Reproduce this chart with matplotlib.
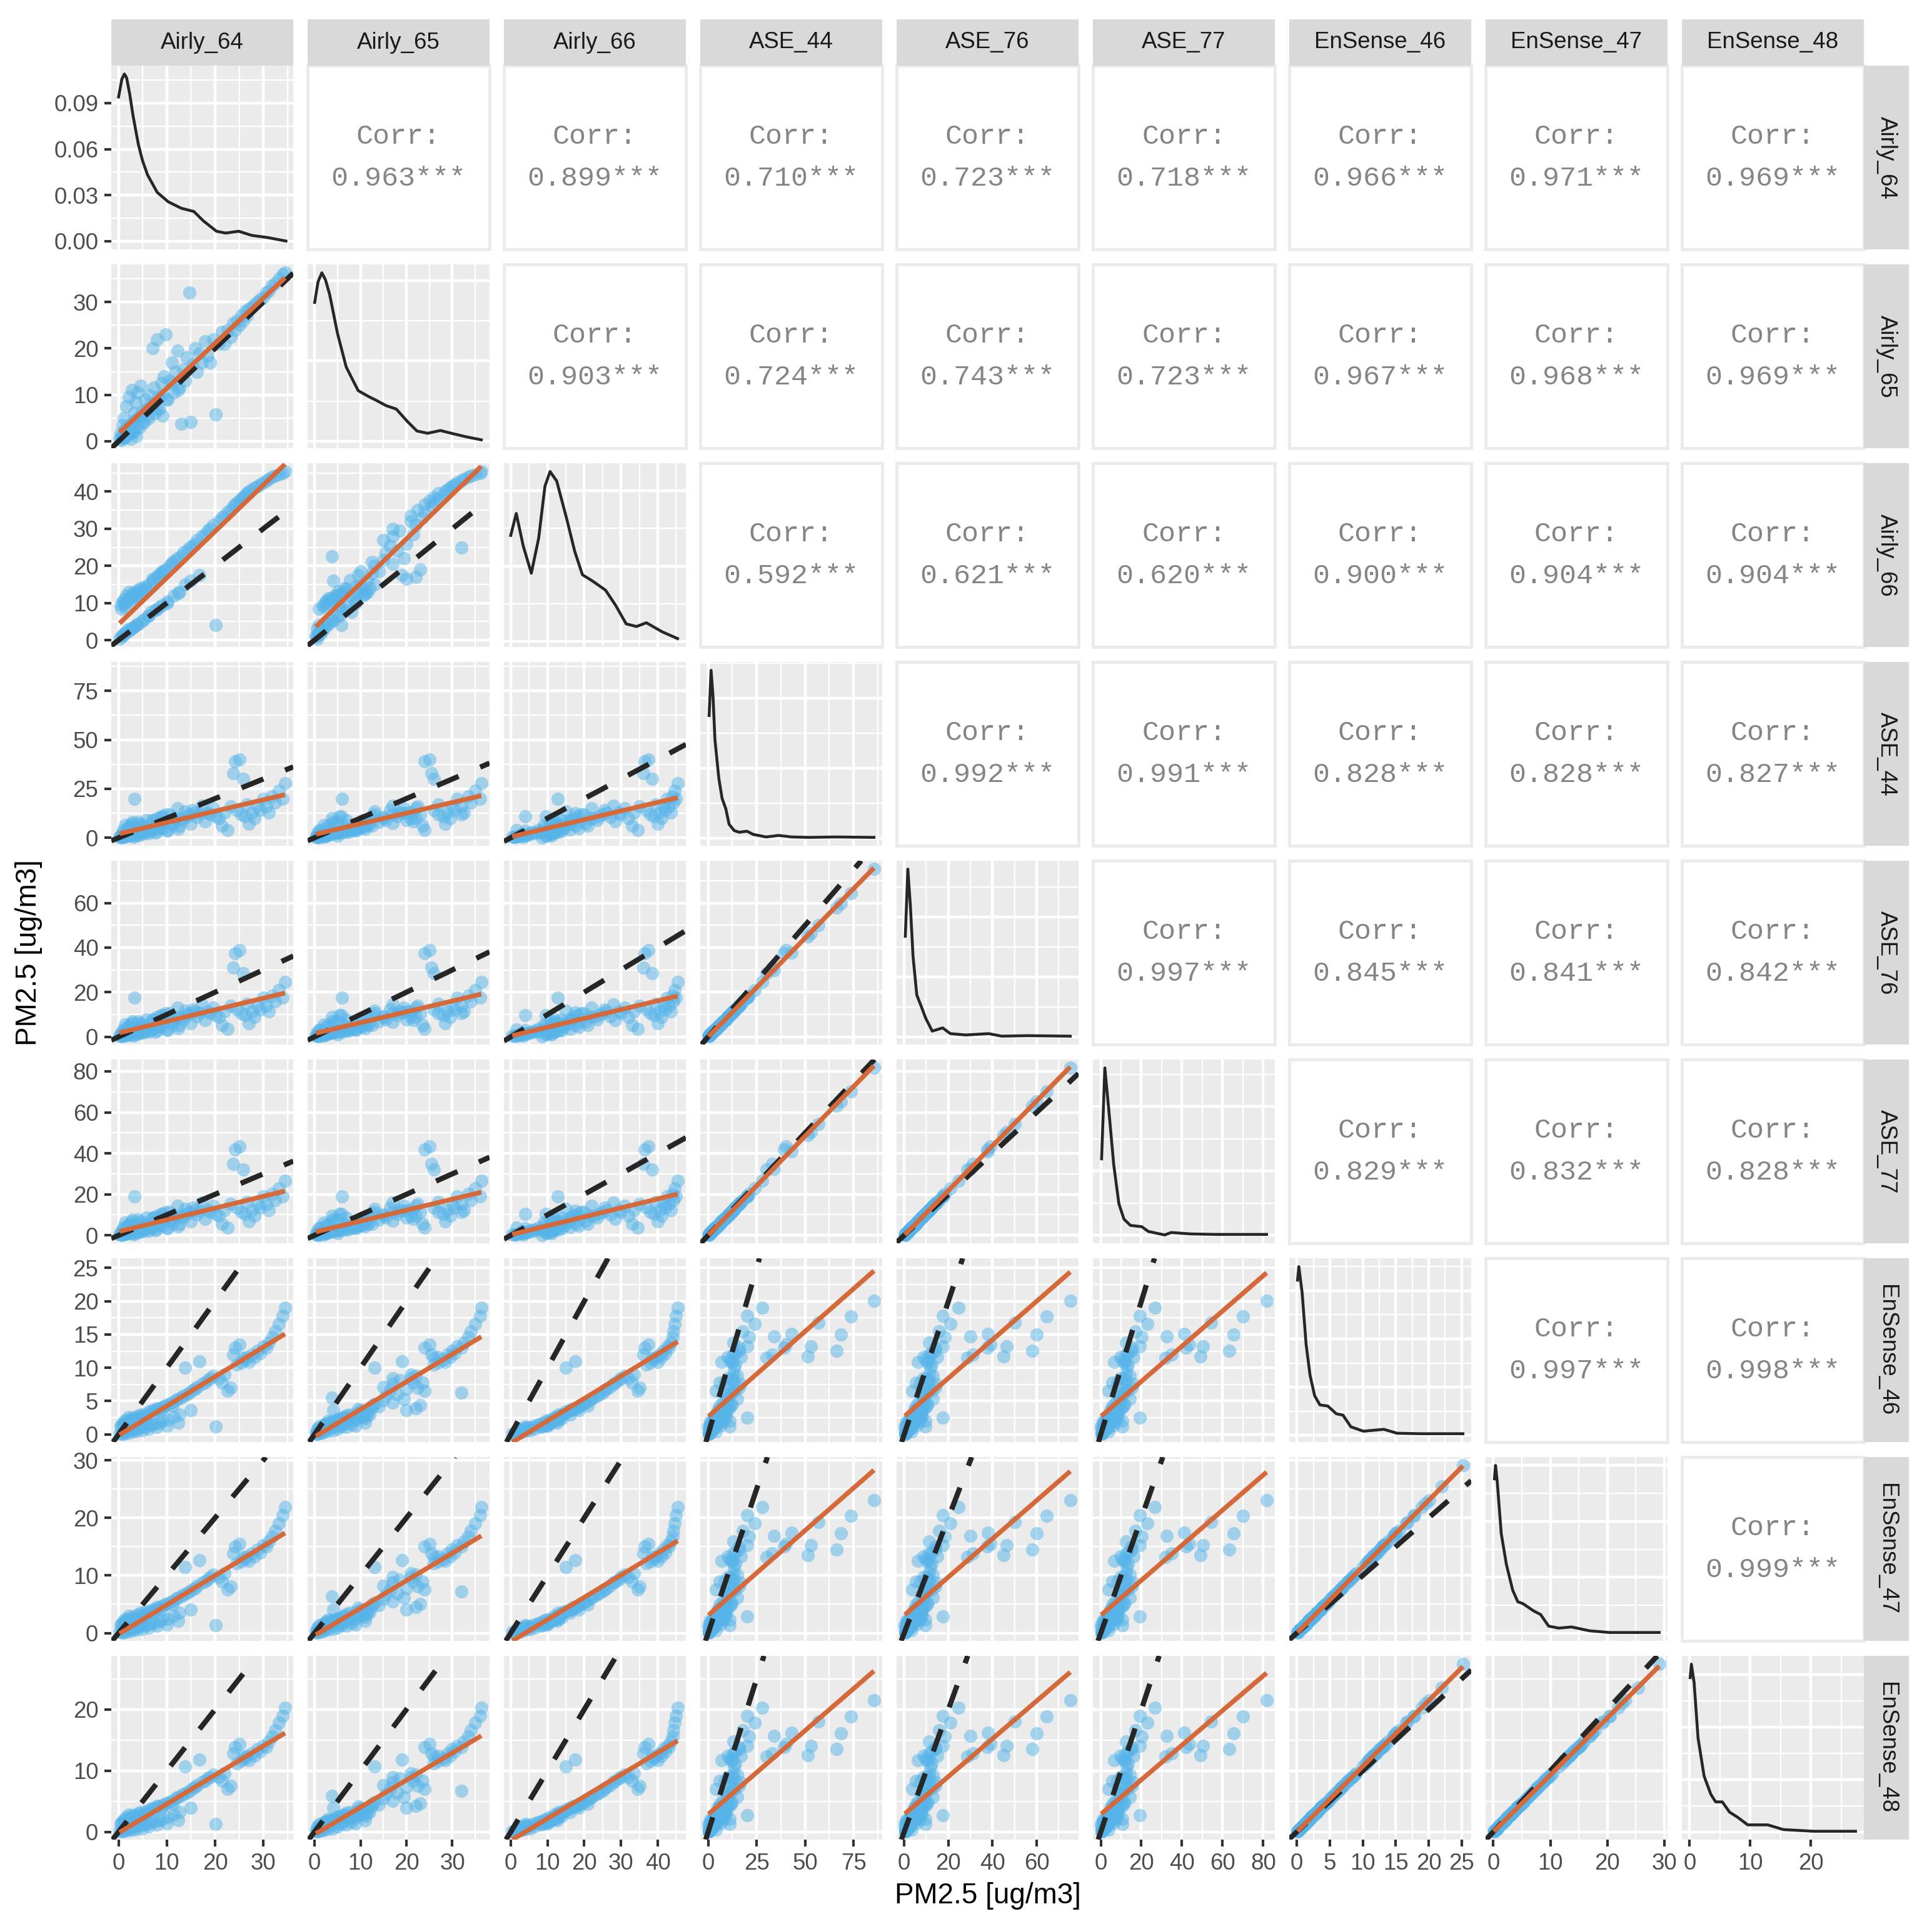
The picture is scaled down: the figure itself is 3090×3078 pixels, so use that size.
import numpy as np
import matplotlib.pyplot as plt
from matplotlib.ticker import MultipleLocator, MaxNLocator, AutoMinorLocator, FormatStrFormatter

plt.rcParams['font.family'] = ['Liberation Sans', 'DejaVu Sans']

nan = np.nan
names = ['Airly_64', 'Airly_65', 'Airly_66', 'ASE_44', 'ASE_76', 'ASE_77',
         'EnSense_46', 'EnSense_47', 'EnSense_48']

# hourly PM2.5 per sensor (NaN = sensor had no reading)
airly_64 = [0.2, 0.4, 0.6, 0.8, 1.0, 1.1, 1.3, 1.5, 1.6, 1.8, 2.0, 2.1, 2.3, 2.5, 2.7, 2.9, 3.1, 3.3, 3.5, 3.7,
            3.9, 4.1, 4.3, 4.6, 4.9, 5.2, 5.5, 5.8, 6.1, 6.4,
            6.8, 7.0, 7.3, 7.6, 7.9, 8.2, 8.5, 8.8, 9.1, 9.4, 9.8, 10.2, 10.6, 11.0, 11.4, 11.8, 12.2, 12.6,
            13.0, 13.4, 13.8, 14.2, 14.7, 14.9, 15.3, 15.8, 16.3, 16.8, 17.3, 17.9, 18.4, 19.0, 19.6, 20.2,
            20.8, 21.4, 22.0, 22.6, 23.2, 23.8, 24.2, 24.6, 25.0, 25.4, 25.8, 26.2, 26.6, 27.0, 27.6, 28.2,
            28.8, 29.4, 30.0, 30.6, 31.2, 31.8, 32.5, 33.2, 34.0, 34.5,
            0.5, 0.9, 1.2, 1.4, 1.7, 2.2, 2.6, 3.0, 3.4, 3.8, 4.4, 5.0, 5.6, 6.2, 7.2, 8.0, 9.0, 10.0, 11.2, 12.4
            ] + [nan] * 12
airly_65 = [0.5, 1.8, 0.3, 3.5, 1.2, 5.0, 2.0, 0.8, 7.5, 2.5, 1.5, 9.5, 3.0, 0.5, 11.0, 4.0, 2.0, 6.0, 8.5, 1.0,
            10.5, 5.0, 3.0, 12.0, 6.5, 4.0, 9.0, 7.0, 5.5, 10.0,
            8.0, 20.0, 11.5, 6.0, 22.0, 9.5, 7.0, 12.5, 5.5, 14.0, 23.0, 9.0, 13.0, 17.0, 10.5, 15.0, 19.5, 11.5,
            3.8, 15.5, 13.0, 18.0, 32.0, 4.1, 16.5, 20.0, 15.0, 19.0, 17.0, 21.5, 18.5, 17.0, 22.0, 5.8,
            21.0, 23.5, 21.0, 24.0, 22.5, 25.5, 24.0, 26.0, 25.0, 27.0, 26.0, 28.0, 27.0, 28.5, 29.0, 29.5,
            30.0, 30.5, 31.0, 32.0, 32.5, 33.5, 34.0, 35.0, 36.0, 36.3,
            1.0, 0.6, 2.4, 1.1, 3.0, 1.8, 3.8, 2.2, 4.6, 3.0, 5.2, 4.1, 6.5, 5.0, 7.8, 7.0, 10.0, 9.0, 12.5, 11.0
            ] + [nan] * 12
airly_66 = [0.4, 9.5, 1.0, 10.2, 1.5, 11.0, 9.0, 2.0, 12.0, 10.5, 2.8, 13.0, 11.2, 3.0, 12.5, 10.8, 3.5, 12.8, 11.5, 4.0,
            13.5, 12.0, 4.5, 14.0, 13.0, 5.5, 14.5, 13.8, 6.5, 15.0,
            7.5, 16.5, 16.0, 8.0, 17.0, 17.5, 9.0, 18.0, 9.5, 18.5, 19.0, 10.5, 20.0, 20.5, 12.0, 21.5, 22.0, 13.0,
            22.5, 23.5, 15.0, 24.0, 25.0, 16.0, 25.5, 26.0, 27.0, 17.5, 28.0, 28.5, 29.5, 30.0, 31.0, 4.0,
            32.0, 33.0, 33.5, 34.5, 35.0, 36.0, 36.5, 37.0, 37.5, 38.0, 38.5, 39.0, 39.5, 40.0, 40.5, 41.0,
            41.5, 42.0, 42.5, 43.0, 43.5, 44.0, 44.3, 44.6, 45.0, 45.4,
            8.5, 1.2, 9.8, 1.8, 10.8, 2.5, 11.5, 3.3, 12.2, 4.2, 13.2, 5.3, 14.0, 6.5, 16.2, 8.2, 18.5, 10.0, 21.0, 12.6
            ] + [nan] * 12
ase_44 = [0.3, 1.2, 0.5, 2.5, 4.0, 1.0, 6.5, 0.8, 3.0, 5.0, 1.5, 5.0, 6.0, 2.0, 7.0, 8.0, 0.5, 20.0, 4.5, 3.5,
          5.5, 8.0, 1.5, 7.0, 6.0, 2.5, 5.0, 9.0, 3.0, 6.5,
          4.0, 9.0, 9.0, 2.5, 10.0, 6.0, 5.0, 11.0, 11.0, 8.0, 12.0, 3.5, 12.0, 7.5, 9.0, 10.0, 15.0, 6.0,
          10.0, 9.0, 13.5, 11.0, 12.0, 7.0, 14.0, 13.0, 10.5, 12.5, 16.5, 8.5, 13.0, 12.0, 15.0, 11.0,
          10.0, 6.0, 13.0, 4.0, 16.0, 33.0, 39.0, 14.0, 40.0, 12.0, 30.0, 11.0, 17.0, 7.0, 13.0, 10.0,
          16.0, 14.0, 20.0, 16.0, 13.0, 21.0, 18.0, 24.0, 20.0, 28.0,
          0.2, 0.4, 1.0, 0.6, 1.8, 0.9, 2.2, 1.2, 2.8, 1.5, 3.0, 2.0, 3.5, 2.4, 4.2, 3.0, 5.0, 3.8, 6.0, 4.5,
          34.0, 43.0, 51.4, 52.9, 57.0, 66.3, 68.4, 73.5, 85.5, nan, nan, nan]
ase_76 = [0.5, 1.3, 0.4, 2.4, 3.4, 1.1, 5.6, 0.9, 2.7, 4.4, 1.4, 4.5, 5.3, 1.9, 6.2, 7.0, 0.6, 17.6, 3.9, 3.1,
          4.8, 7.0, 1.5, 6.1, 5.3, 2.2, 4.4, 7.9, 2.6, 5.7,
          3.5, 7.9, 7.9, 2.2, 8.8, 5.2, 4.4, 9.6, 9.6, 7.0, 10.5, 3.1, 10.5, 6.6, 7.9, 8.8, 13.1, 5.3,
          8.8, 7.9, 11.8, 9.6, 10.5, 6.1, 12.3, 11.4, 9.2, 10.9, 14.4, 7.4, 11.4, 10.5, 13.1, 9.6,
          8.8, 5.3, 11.4, 3.5, 14.0, 31.0, 37.5, 12.3, 39.0, 10.5, 28.5, 9.6, 14.9, 6.1, 11.4, 8.8,
          14.0, 12.3, 17.5, 14.0, 11.4, 18.4, 15.8, 21.0, 17.5, 24.5,
          0.3, 0.4, 0.9, 0.5, 1.6, 0.8, 1.9, 1.1, 2.4, 1.3, 2.6, 1.8, 3.1, 2.1, 3.7, 2.6, 4.4, 3.3, 5.2, 3.9,
          30.0, 37.8, 45.0, 46.3, 50.0, 58.0, 60.0, 64.5, 75.2, nan, nan, nan]
ase_77 = [0.4, 1.2, 0.5, 2.4, 3.8, 1.0, 6.2, 0.8, 2.9, 4.8, 1.4, 4.8, 5.7, 1.9, 6.7, 7.6, 0.5, 19.1, 4.3, 3.4,
          5.3, 7.6, 1.5, 6.7, 5.7, 2.4, 4.8, 8.6, 2.9, 6.2,
          3.8, 8.6, 8.6, 2.4, 9.6, 5.7, 4.8, 10.5, 10.5, 7.6, 11.5, 3.3, 11.5, 7.2, 8.6, 9.6, 14.3, 5.7,
          9.6, 8.6, 12.9, 10.5, 11.5, 6.7, 13.4, 12.4, 10.0, 11.9, 15.8, 8.1, 12.4, 11.5, 14.3, 10.5,
          9.6, 5.7, 12.4, 3.8, 15.3, 35.0, 42.0, 13.4, 43.5, 11.5, 32.0, 10.5, 16.2, 6.7, 12.4, 9.6,
          15.3, 13.4, 19.1, 15.3, 12.4, 20.1, 17.2, 22.9, 19.1, 26.7,
          0.2, 0.4, 1.0, 0.6, 1.7, 0.9, 2.1, 1.1, 2.7, 1.4, 2.9, 1.9, 3.3, 2.3, 4.0, 2.9, 4.8, 3.6, 5.7, 4.3,
          32.5, 41.0, 49.0, 50.5, 54.5, 63.3, 65.3, 70.2, 81.7, nan, nan, nan]
ensense_46 = [0.1, 1.3, 0.2, 1.6, 0.4, 1.9, 1.4, 0.5, 2.2, 1.7, 0.6, 2.6, 2.0, 0.7, 2.4, 1.9, 0.8, 2.5, 2.1, 0.9,
              2.8, 2.3, 1.0, 3.0, 2.6, 1.1, 3.1, 2.9, 1.3, 3.4,
              1.5, 3.6, 3.5, 1.6, 3.9, 3.8, 1.8, 4.0, 2.0, 4.2, 4.4, 2.2, 4.6, 4.8, 2.6, 5.1, 5.3, 3.0,
              5.5, 5.8, 10.0, 6.0, 6.3, 3.6, 6.6, 6.8, 7.1, 11.0, 7.6, 7.8, 8.1, 8.4, 8.8, 1.2,
              8.4, 7.8, 9.0, 6.5, 7.0, 12.0, 13.0, 10.5, 13.5, 10.8, 11.5, 11.2, 11.6, 10.9, 12.0, 11.6,
              12.6, 12.2, 13.2, 13.0, 13.8, 14.6, 15.5, 16.6, 17.8, 19.0,
              1.2, 0.1, 1.5, 0.2, 1.7, 0.3, 1.9, 0.4, 2.0, 0.5, 2.2, 0.6, 2.4, 0.8, 3.0, 1.1, 3.6, 1.3, 4.3, 1.8,
              14.7, 15.1, 11.7, 13.2, 16.8, 12.6, 15.0, 17.7, 20.1, 25.2, 22.0, 19.5]
ensense_47 = [0.2, 1.5, 0.2, 1.8, 0.5, 2.2, 1.6, 0.6, 2.5, 2.0, 0.7, 3.0, 2.3, 0.8, 2.8, 2.2, 0.9, 2.9, 2.4, 1.0,
              3.2, 2.6, 1.2, 3.5, 3.0, 1.3, 3.6, 3.3, 1.5, 3.9,
              1.7, 4.1, 4.0, 1.8, 4.5, 4.4, 2.1, 4.6, 2.3, 4.8, 5.1, 2.5, 5.3, 5.5, 3.0, 5.9, 6.1, 3.5,
              6.3, 6.7, 11.5, 6.9, 7.2, 4.1, 7.6, 7.8, 8.2, 12.7, 8.7, 9.0, 9.3, 9.7, 10.1, 1.4,
              9.7, 9.0, 10.4, 7.5, 8.1, 13.8, 15.0, 12.1, 15.5, 12.4, 13.2, 12.9, 13.3, 12.5, 13.8, 13.3,
              14.5, 14.0, 15.2, 15.0, 15.9, 16.8, 17.8, 19.1, 20.5, 21.9,
              1.4, 0.1, 1.7, 0.2, 2.0, 0.3, 2.2, 0.5, 2.3, 0.6, 2.5, 0.7, 2.8, 0.9, 3.5, 1.3, 4.1, 1.5, 4.9, 2.1,
              16.9, 17.4, 13.5, 15.2, 19.3, 14.5, 17.3, 20.4, 23.1, 29.1, 25.4, 22.5]
ensense_48 = [0.1, 1.4, 0.2, 1.7, 0.4, 2.0, 1.5, 0.5, 2.4, 1.8, 0.6, 2.8, 2.1, 0.8, 2.6, 2.0, 0.9, 2.7, 2.2, 1.0,
              3.0, 2.5, 1.1, 3.2, 2.8, 1.2, 3.3, 3.1, 1.4, 3.6,
              1.6, 3.9, 3.7, 1.7, 4.2, 4.1, 1.9, 4.3, 2.1, 4.5, 4.7, 2.4, 4.9, 5.1, 2.8, 5.5, 5.7, 3.2,
              5.9, 6.2, 10.7, 6.4, 6.7, 3.9, 7.1, 7.3, 7.6, 11.8, 8.1, 8.3, 8.7, 9.0, 9.4, 1.3,
              9.0, 8.3, 9.6, 7.0, 7.5, 12.8, 13.9, 11.2, 14.4, 11.6, 12.3, 12.0, 12.4, 11.7, 12.8, 12.4,
              13.5, 13.1, 14.1, 13.9, 14.8, 15.6, 16.6, 17.8, 19.0, 20.3,
              1.3, 0.1, 1.6, 0.2, 1.8, 0.3, 2.0, 0.4, 2.1, 0.5, 2.4, 0.6, 2.6, 0.9, 3.2, 1.2, 3.9, 1.4, 4.6, 1.9,
              15.7, 16.2, 12.5, 14.1, 18.0, 13.5, 16.1, 18.9, 21.5, 27.4, 23.6, 21.0]

# upper triangle correlations, row by row
corr_vals = [0.963, 0.899, 0.710, 0.723, 0.718, 0.966, 0.971, 0.969,
             0.903, 0.724, 0.743, 0.723, 0.967, 0.968, 0.969,
             0.592, 0.621, 0.620, 0.900, 0.904, 0.904,
             0.992, 0.991, 0.828, 0.828, 0.827,
             0.997, 0.845, 0.841, 0.842,
             0.829, 0.832, 0.828,
             0.997, 0.998,
             0.999]

# density curves on the diagonal
kde_airly_64_x = [0, 0.67, 1.2, 1.66, 2.3, 3.0, 4.1, 4.95, 6.0, 8.0, 10.3, 13.0, 15.6, 17.6, 20.3, 22.2, 24.9, 27.6, 30.9, 34.7]
kde_airly_64_y = [0.094, 0.1056, 0.109, 0.1066, 0.096, 0.0817, 0.063, 0.0526, 0.0432, 0.0318, 0.0256, 0.0214,
                  0.0193, 0.0131, 0.0064, 0.0052, 0.0064, 0.0037, 0.0023, 0.0]
kde_airly_65_x = [0.04, 0.77, 1.6, 2.4, 3.3, 5.0, 6.9, 9.5, 11.7, 13.4, 15.6, 17.8, 20.1, 22.3, 24.6, 27.4, 30.2, 33.0, 36.3]
kde_airly_65_y = [0.0865, 0.0994, 0.105, 0.1005, 0.0914, 0.0672, 0.0462, 0.0315, 0.0279, 0.0255, 0.0221, 0.02,
                  0.0126, 0.0063, 0.0049, 0.0066, 0.0046, 0.0027, 0.0008]
kde_airly_66_x = [0, 1.5, 3.4, 5.6, 7.6, 9.3, 10.7, 12.5, 15.3, 17.4, 19.5, 22.3, 25.8, 28.6, 31.4, 34.2, 36.9, 41.2, 45.4]
kde_airly_66_y = [0.0281, 0.0339, 0.0253, 0.0181, 0.0274, 0.0411, 0.045, 0.0425, 0.0322, 0.0239, 0.0177, 0.016,
                  0.0136, 0.0095, 0.0047, 0.004, 0.005, 0.0026, 0.0008]
kde_ase_44_x = [0.5, 1.5, 2.5, 3.5, 5.5, 7.2, 9.1, 10.8, 13.4, 16.0, 20.0, 23.3, 29.9, 36.4, 43.0, 52.3, 65.5, 85.5]
kde_ase_44_y = [0.0876, 0.12, 0.1015, 0.0703, 0.0428, 0.0282, 0.0209, 0.0098, 0.0053, 0.0041, 0.0048, 0.0025,
                0.0007, 0.0018, 0.0007, 0.0004, 0.0007, 0.0004]
kde_ase_76_x = [0.5, 1.65, 2.8, 4.0, 5.7, 7.5, 9.8, 12.7, 17.4, 20.9, 27.8, 38.3, 44.1, 55.7, 75.2]
kde_ase_76_y = [0.084, 0.14, 0.1092, 0.0672, 0.035, 0.0266, 0.0154, 0.0049, 0.0076, 0.0028, 0.0017, 0.0028,
                0.0007, 0.0011, 0.0007]
kde_ase_77_x = [0.4, 2.0, 3.9, 6.4, 8.9, 11.4, 14.6, 20.2, 23.4, 31.5, 34.7, 44.1, 56.6, 81.7]
kde_ase_77_y = [0.0594, 0.13, 0.0982, 0.0546, 0.0247, 0.0127, 0.0078, 0.0068, 0.0031, 0.0004, 0.0023, 0.0012,
                0.0008, 0.0008]
kde_ensense_46_x = [0.1, 0.3, 0.8, 1.4, 2.0, 2.7, 3.5, 4.7, 6.0, 7.0, 8.2, 10.1, 13.2, 15.2, 18.7, 25.2]
kde_ensense_46_y = [0.322, 0.35, 0.2958, 0.189, 0.1246, 0.0819, 0.063, 0.0606, 0.0445, 0.0417, 0.0175, 0.0084,
                    0.0123, 0.0042, 0.0032, 0.0032]
kde_ensense_47_x = [0.2, 0.4, 0.7, 1.4, 2.3, 3.4, 4.3, 5.2, 7.0, 8.3, 9.7, 11.5, 13.7, 16.9, 20.4, 24.9, 29.1]
kde_ensense_47_y = [0.276, 0.3, 0.27, 0.178, 0.123, 0.0771, 0.0564, 0.0531, 0.0405, 0.0336, 0.0129, 0.0093,
                    0.0114, 0.0045, 0.0015, 0.0015, 0.0015]
kde_ensense_48_x = [0.1, 0.3, 0.75, 1.4, 2.4, 3.5, 4.3, 5.4, 6.6, 7.9, 9.6, 12.9, 15.5, 20.5, 27.4]
kde_ensense_48_y = [0.2944, 0.32, 0.2848, 0.1792, 0.1066, 0.0723, 0.0576, 0.0576, 0.0381, 0.0285, 0.0138,
                    0.0138, 0.0048, 0.0016, 0.0016]

tick_step = [10, 10, 10, 25, 20, 20, 5, 10, 10]

data = [np.array(v, dtype=float) for v in
        [airly_64, airly_65, airly_66, ase_44, ase_76, ase_77, ensense_46, ensense_47, ensense_48]]
kdes = [(kde_airly_64_x, kde_airly_64_y), (kde_airly_65_x, kde_airly_65_y), (kde_airly_66_x, kde_airly_66_y),
        (kde_ase_44_x, kde_ase_44_y), (kde_ase_76_x, kde_ase_76_y), (kde_ase_77_x, kde_ase_77_y),
        (kde_ensense_46_x, kde_ensense_46_y), (kde_ensense_47_x, kde_ensense_47_y),
        (kde_ensense_48_x, kde_ensense_48_y)]

W, H = 3090, 3078
fig = plt.figure(figsize=(W / 300, H / 300), dpi=300)


def box(px, py, pw, ph):
    return [px / W, 1 - (py + ph) / H, pw / W, ph / H]


def lims(v):
    lo, hi = np.nanmin(v), np.nanmax(v)
    pad = 0.05 * (hi - lo)
    return lo - pad, hi + pad


def grey(ax):
    ax.set_facecolor('#EBEBEB')
    for s in ax.spines.values():
        s.set_visible(False)
    ax.grid(True, which='major', color='white', lw=1.07)
    ax.grid(True, which='minor', color='white', lw=0.53)
    ax.set_axisbelow(True)
    ax.tick_params(which='both', length=0, labelleft=False, labelbottom=False)


n = len(names)
corr_iter = iter(corr_vals)
tick_kw = dict(which='major', length=2.75, width=1.0, color='#333333',
               labelsize=8.8, labelcolor='#4D4D4D', pad=2.2)

for r in range(n):
    for c in range(n):
        ax = fig.add_axes(box(178 + 314 * c, 105 + 318 * r, 291, 294))
        if c > r:
            ax.set_facecolor('white')
            for s in ax.spines.values():
                s.set_color('#EBEBEB')
                s.set_linewidth(1.2)
            ax.set_xticks([])
            ax.set_yticks([])
            v = next(corr_iter)
            for yy, txt in [(0.615, 'Corr:'), (0.385, f'{v:.3f}***')]:
                ax.text(0.5, yy, txt, transform=ax.transAxes, ha='center', va='center',
                        family=['Liberation Mono', 'DejaVu Sans Mono'], size=10.8, color='#858585')
            continue

        grey(ax)
        ax.xaxis.set_major_locator(MultipleLocator(tick_step[c]))
        ax.xaxis.set_minor_locator(MultipleLocator(tick_step[c] / 2))
        ax.set_xlim(*lims(data[c]))

        if r == c:
            kx, ky = kdes[c]
            ax.plot(kx, ky, color='#262626', lw=1.1, solid_joinstyle='round')
            ax.set_ylim(*lims(np.array(ky)))
            if r == 0:
                ax.yaxis.set_major_locator(MultipleLocator(0.03))
                ax.yaxis.set_minor_locator(MultipleLocator(0.015))
                ax.yaxis.set_major_formatter(FormatStrFormatter('%.2f'))
            else:
                ax.yaxis.set_major_locator(MaxNLocator(nbins=4, steps=[1, 2, 2.5, 5, 10]))
                ax.yaxis.set_minor_locator(AutoMinorLocator(2))
        else:
            x, y = data[c], data[r]
            ax.scatter(x, y, s=26, c='#56B4E9', alpha=0.5, linewidths=0, zorder=2)
            ax.axline((0, 0), slope=1, color='#262626', lw=2.0, linestyle=(0, (4.5, 4.5)), zorder=3)
            m = ~np.isnan(x) & ~np.isnan(y)
            k, b = np.polyfit(x[m], y[m], 1)
            xs = np.array([x[m].min(), x[m].max()])
            ax.plot(xs, k * xs + b, color='#D6693A', lw=1.8, zorder=4, solid_capstyle='butt')
            ax.yaxis.set_major_locator(MultipleLocator(tick_step[r]))
            ax.yaxis.set_minor_locator(MultipleLocator(tick_step[r] / 2))
            ax.set_ylim(*lims(data[r]))

        if c == 0:
            ax.tick_params(axis='y', labelleft=True, **tick_kw)
        if r == n - 1:
            ax.tick_params(axis='x', labelbottom=True, **tick_kw)

# facet strips
for i, nm in enumerate(names):
    sax = fig.add_axes(box(178 + 314 * i, 31, 291, 74))
    sax.set_facecolor('#D9D9D9')
    sax.set_xticks([])
    sax.set_yticks([])
    for s in sax.spines.values():
        s.set_visible(False)
    sax.text(0.5, 0.5, nm, ha='center', va='center', size=8.8, color='#1A1A1A', transform=sax.transAxes)

    rax = fig.add_axes(box(2981, 105 + 318 * i, 72, 294))
    rax.set_facecolor('#D9D9D9')
    rax.set_xticks([])
    rax.set_yticks([])
    for s in rax.spines.values():
        s.set_visible(False)
    rax.text(0.5, 0.5, nm, ha='center', va='center', size=8.8, color='#1A1A1A', rotation=-90,
             transform=rax.transAxes)

fig.text(46 / W, 1 - 1524 / H, 'PM2.5 [ug/m3]', rotation=90, ha='center', va='center', size=11)
fig.text(1580 / W, 1 - 3033 / H, 'PM2.5 [ug/m3]', ha='center', va='center', size=11)

fig.savefig('out.png', dpi=300)
